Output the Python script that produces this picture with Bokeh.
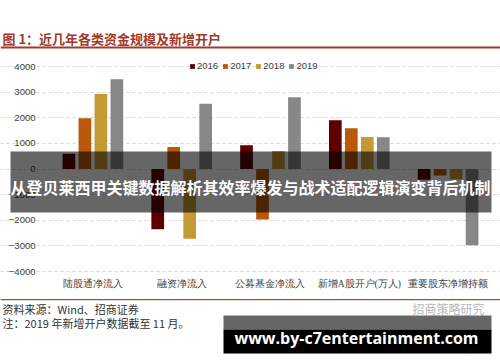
from bokeh.plotting import figure
from bokeh.models import (Range1d, FixedTicker, Legend, LegendItem, AllLabels,
                          BoxAnnotation, Label, LabelSet, ColumnDataSource)
from bokeh.transform import dodge
from bokeh.embed import file_html
from bokeh.resources import INLINE

# ---------------- data ----------------
categories = ["陆股通净流入", "融资净流入", "公募基金净流入", "新增A股开户(万人)", "重要股东净增持额"]
years = ["2016", "2017", "2018", "2019"]
v2016 = [600, -2350, 930, 1900, -420]
v2017 = [1980, 860, -1970, 1590, -250]
v2018 = [2930, -2720, 700, 1250, -400]
v2019 = [3500, 2550, 2800, 1240, -2980]
y_ticks = [-4000, -3000, -2000, -1000, 0, 1000, 2000, 3000, 4000]
y_tick_labels = ["\u22124000", "\u22123000", "\u22122000", "\u22121000", "0",
                 "1000", "2000", "3000", "4000"]

title_text = "图 1：近几年各类资金规模及新增开户"
source_text = "资料来源：Wind、招商证券"
note_text = "注：2019 年新增开户数据截至 11 月。"
brand_text = "招商策略研究"
banner_text = "从登贝莱西甲关键数据解析其效率爆发与战术适配逻辑演变背后机制"
site_text = "www.by-c7entertainment.com"

colors = ["#5e0000", "#b85a08", "#c39a36", "#878787"]
offsets = [-0.27, -0.09, 0.09, 0.27]

cat_idx = list(range(len(categories)))
src = ColumnDataSource(dict(cat=cat_idx, name=categories, y2016=v2016, y2017=v2017,
                            y2018=v2018, y2019=v2019))

W, H = 500, 362
p = figure(width=W, height=H, title=None,
           x_range=Range1d(-1.0405, 4.5901),
           y_range=Range1d(-7551, 6576),
           output_backend="svg", toolbar_location=None,
           min_border_left=0, min_border_right=0,
           min_border_top=0, min_border_bottom=0)
p.outline_line_color = None
p.background_fill_color = "white"
p.border_fill_color = "white"

renderers = []
for yr, col, off in zip(years, colors, offsets):
    r = p.vbar(x=dodge("cat", off), top="y" + yr, bottom=0,
               width=0.143, source=src, fill_color=col, line_color=None)
    renderers.append(r)

# y axis drawn at a fixed location inside the canvas
p.yaxis.fixed_location = -0.5
p.yaxis.ticker = FixedTicker(ticks=y_ticks)
p.yaxis.major_label_overrides = {t: l for t, l in zip(y_ticks, y_tick_labels)}
p.yaxis.major_label_policy = AllLabels()
p.yaxis.axis_line_color = None
p.yaxis.major_tick_line_color = None
p.yaxis.minor_tick_line_color = None
p.yaxis.major_tick_out = 0
p.yaxis.major_tick_in = 0
p.yaxis.major_label_standoff = 13
p.yaxis.major_label_text_font = "Liberation Sans"
p.yaxis.major_label_text_font_size = "9.5px"
p.yaxis.major_label_text_color = "#404040"

# category labels placed through the x scale
p.xaxis.visible = False
p.add_layout(LabelSet(x="cat", y=H - 283, y_units="screen", text="name", source=src,
                      text_font="Noto Sans CJK SC", text_font_size="9.5px",
                      text_color="#404040", text_align="center",
                      text_baseline="middle"))

p.xgrid.grid_line_color = None
p.ygrid.ticker = FixedTicker(ticks=y_ticks)
p.ygrid.grid_line_color = "#d6d6d6"
p.ygrid.grid_line_dash = "3 3"
p.ygrid.grid_line_width = 1

legend = Legend(items=[LegendItem(label=yr, renderers=[r]) for yr, r in zip(years, renderers)],
                location=(189, 291), orientation="horizontal",
                padding=0, margin=0, spacing=4, label_standoff=2,
                glyph_width=6, glyph_height=6, label_height=10,
                label_text_font="Liberation Sans", label_text_font_size="9.5px",
                label_text_color="#404040",
                border_line_color=None, background_fill_alpha=0)
p.add_layout(legend)

# helpers: page coordinates -> screen units (frame == whole canvas)
def box(l, r, t, b, color, alpha=1.0):
    p.add_layout(BoxAnnotation(left=l, right=r, top=H - t, bottom=H - b,
                               left_units="screen", right_units="screen",
                               top_units="screen", bottom_units="screen",
                               fill_color=color, fill_alpha=alpha, line_color=None,
                               level="overlay"))

def label(x, y, text, size, color, font="Noto Sans CJK SC", style="normal", align="left"):
    p.add_layout(Label(x=x, y=H - y, x_units="screen", y_units="screen",
                       text=text, text_font=font, text_font_size=size,
                       text_font_style=style, text_color=color,
                       text_align=align, text_baseline="middle", level="overlay"))

# title and red rules
label(2, 38, title_text, "13px", "#a3392a", style="bold")
box(0, 500, 46, 48, "#a3392a")
box(0, 500, 298.6, 299.8, "#b0453a")

# footer
label(2, 308, source_text, "11px", "#333333")
label(2, 322, note_text, "11px", "#333333")
label(412, 308, brand_text, "12px", "#b8b8b8")

# banner overlay
box(10, 491, 151, 212, "black", 0.6)
label(250, 186, banner_text, "16px", "white", style="bold", align="center")

# site watermark box
box(223, 491, 315, 329, "#666666")
box(223, 491, 329, 353, "black")
label(356, 337, site_text, "16px", "white", font="Open Sans", style="bold", align="center")

open("out.html", "w").write(file_html(p, INLINE))
